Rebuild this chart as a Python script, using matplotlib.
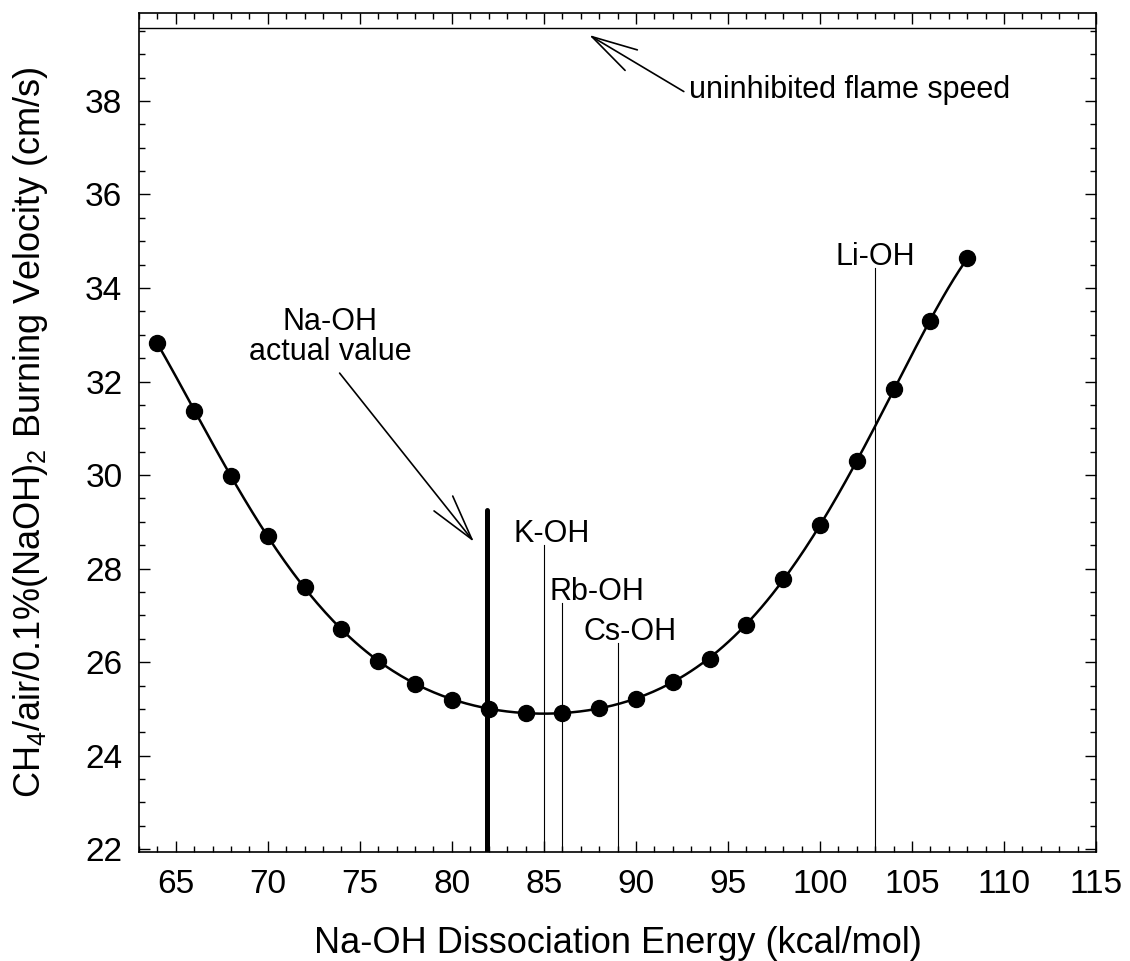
import numpy as np
import matplotlib
matplotlib.use("Agg")
import matplotlib.pyplot as plt
from matplotlib.ticker import MultipleLocator

plt.rcParams['font.family'] = ['Liberation Sans', 'DejaVu Sans']
plt.rcParams['mathtext.fontset'] = 'custom'
plt.rcParams['mathtext.rm'] = 'Liberation Sans'
plt.rcParams['mathtext.it'] = 'Liberation Sans:italic'

# computed burning velocity vs Na-OH bond energy
energy = [64, 66, 68, 70, 72, 74, 76, 78, 80, 82, 84, 86, 88, 90, 92, 94, 96, 98, 100, 102, 104, 106, 108]
velocity = [32.82, 31.37, 29.97, 28.7, 27.6, 26.7, 26.02, 25.53, 25.2, 25.0, 24.92, 24.92, 25.03, 25.22,
            25.57, 26.07, 26.8, 27.78, 28.93, 30.3, 31.84, 33.29, 34.64]

uninhibited = 39.55

# actual Na-OH value and other alkali hydroxides
naoh_energy = 81.9
naoh_top = 29.25
hydroxides = ["K-OH", "Rb-OH", "Cs-OH", "Li-OH"]
hyd_energy = [85.0, 86.0, 89.0, 103.0]
hyd_top = [28.5, 27.26, 26.41, 34.43]
label_x = [85.4, 87.9, 89.7, 103.0]

fig = plt.figure(figsize=(11.3, 9.61), dpi=100)
ax = fig.add_axes([0.123, 0.1134, 0.847, 0.8731])

# smooth fit through the points
coef = np.polyfit(energy, velocity, 6)
xs = np.linspace(energy[0], energy[-1], 300)
ax.plot(xs, np.polyval(coef, xs), color='black', lw=1.8, zorder=3)
ax.plot(energy, velocity, 'o', color='black', ms=11.5, zorder=4)

ax.axhline(uninhibited, color='black', lw=1.0)

ax.plot([naoh_energy, naoh_energy], [21.9, naoh_top], color='black', lw=3.6, solid_capstyle='round')
for name, e, top, lx in zip(hydroxides, hyd_energy, hyd_top, label_x):
    ax.plot([e, e], [21.9, top], color='black', lw=0.8)
    ax.text(lx, top + 0.07, name, ha='center', va='baseline', fontsize=22)

arrow = dict(arrowstyle='->,head_length=3.3,head_width=0.86', color='black', lw=1.2,
             shrinkA=0, shrinkB=0, mutation_scale=10)

ax.text(73.4, 32.3, "Na-OH\nactual value", ha='center', va='bottom', fontsize=22, linespacing=1.0)
ax.annotate("", xy=(81.2, 28.57), xytext=(73.9, 32.18), arrowprops=arrow)

ax.text(92.9, 38.24, "uninhibited flame speed", ha='left', va='center', fontsize=22)
ax.annotate("", xy=(87.45, 39.41), xytext=(92.6, 38.2), arrowprops=arrow)

ax.set_xlim(63, 115)
ax.set_ylim(21.94, 39.88)
ax.xaxis.set_major_locator(MultipleLocator(5))
ax.xaxis.set_minor_locator(MultipleLocator(1))
ax.yaxis.set_major_locator(MultipleLocator(2))
ax.yaxis.set_minor_locator(MultipleLocator(0.5))
ax.tick_params(which='both', direction='in', top=True, right=True, labelsize=24, width=1.0)
ax.tick_params(which='major', length=8, pad=12)
ax.tick_params(which='minor', length=4.5)
for s in ax.spines.values():
    s.set_linewidth(1.2)

ax.set_xlabel("Na-OH Dissociation Energy (kcal/mol)", fontsize=26, labelpad=19)
ax.set_ylabel(r"CH$_\mathregular{4}$/air/0.1%(NaOH)$_\mathregular{2}$ Burning Velocity (cm/s)",
              fontsize=26, labelpad=25)

fig.savefig("out.png", dpi=100)
